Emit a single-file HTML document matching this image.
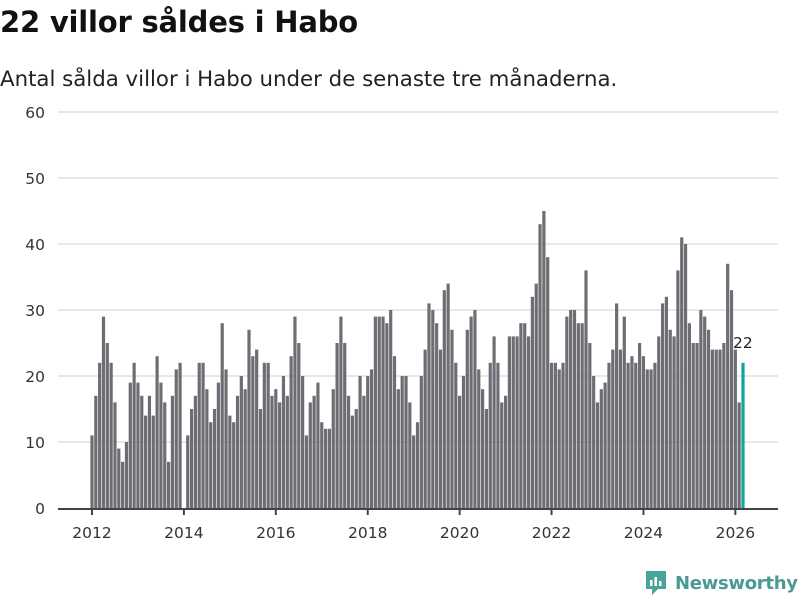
<!DOCTYPE html>
<html><head><meta charset="utf-8"><style>
body{margin:0;width:800px;height:600px;background:#fff;font-family:"DejaVu Sans","Liberation Sans",sans-serif;overflow:hidden;position:relative}
h1{position:absolute;left:0;top:5px;margin:0;font-size:29px;font-weight:bold;color:#111;letter-spacing:-0.2px}
.sub{position:absolute;left:0;top:67px;font-size:21.3px;color:#222;white-space:nowrap}
</style></head><body>
<h1>22 villor såldes i Habo</h1>
<div class="sub">Antal sålda villor i Habo under de senaste tre månaderna.</div>
<svg id="chart" width="800" height="600" style="position:absolute;left:0;top:0"></svg>
<div style="position:absolute;left:644px;top:569px;display:flex;align-items:center;white-space:nowrap">
<svg width="24" height="28" viewBox="0 0 24 28"><path d="M2 2h20v18H14l-6 6v-6H2z" fill="#4aa39a"/><rect x="6" y="11" width="2.5" height="6" fill="#fff"/><rect x="10.5" y="8" width="2.5" height="9" fill="#fff"/><rect x="15" y="12" width="2.5" height="5" fill="#fff"/></svg>
<span style="font-size:18px;font-weight:bold;color:#4a9a93;margin-left:7px;letter-spacing:-0.3px">Newsworthy</span></div>
<script>
const values=[11,17,22,29,25,22,16,9,7,10,19,22,
19,17,14,17,14,23,19,16,7,17,21,22,
0,11,15,17,22,22,18,13,15,19,28,21,
14,13,17,20,18,27,23,24,15,22,22,17,
18,16,20,17,23,29,25,20,11,16,17,19,
13,12,12,18,25,29,25,17,14,15,20,17,
20,21,29,29,29,28,30,23,18,20,20,16,
11,13,20,24,31,30,28,24,33,34,27,22,
17,20,27,29,30,21,18,15,22,26,22,16,
17,26,26,26,28,28,26,32,34,43,45,38,
22,22,21,22,29,30,30,28,28,36,25,20,
16,18,19,22,24,31,24,29,22,23,22,25,
23,21,21,22,26,31,32,27,26,36,41,40,
28,25,25,30,29,27,24,24,24,25,37,33,
24,16,22];
const yTicks=[0,10,20,30,40,50,60];
const xTickLabels=["2012","2014","2016","2018","2020","2022","2024","2026"];
const xTickIndex=[0,24,48,72,96,120,144,168];
const lastLabel="22";
const svg=document.getElementById('chart');const NS="http://www.w3.org/2000/svg";
const y=v=>508-v*6.6;const x=i=>92+i*(651/(values.length-1));
function mk(t,a){const e=document.createElementNS(NS,t);for(const k in a)e.setAttribute(k,a[k]);svg.appendChild(e);return e;}
yTicks.forEach(t=>{if(t>0){const g=mk('line',{x1:58,x2:778,y1:y(t),y2:y(t),stroke:'#e0e0e0','stroke-width':1.5});

}
const l=mk('text',{x:45,y:y(t)+6,'text-anchor':'end','font-size':15.5,fill:'#333'});l.textContent=t;

});
values.forEach((v,i)=>{const last=i===values.length-1;const r=mk('rect',{x:x(i)-1.6,y:y(v),width:3.2,height:v*6.6,fill:last?'#12a59b':'#6e6d73'});

});
const ax=mk('line',{x1:58,x2:778,y1:509,y2:509,stroke:'#444','stroke-width':2});


xTickLabels.forEach((lab,k)=>{const xx=x(xTickIndex[k]);const tk=mk('line',{x1:xx,x2:xx,y1:509,y2:515,stroke:'#444','stroke-width':2});


const t=mk('text',{x:xx,y:538,'text-anchor':'middle','font-size':15.5,fill:'#333'});t.textContent=lab;

});
const li=values.length-1;const vl=mk('text',{x:x(li)-10,y:y(values[li])-15,'font-size':15.5,fill:'#222'});vl.textContent=lastLabel;


</script>
</body></html>
